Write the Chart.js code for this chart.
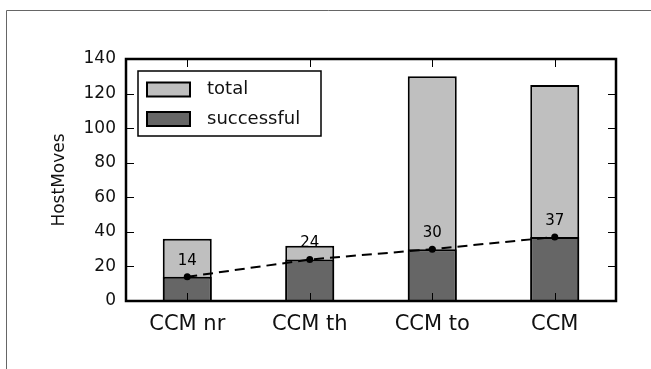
<!DOCTYPE html>
<html>
<head>
<meta charset="utf-8">
<script src="https://cdn.jsdelivr.net/npm/chart.js@4/dist/chart.umd.min.js"></script>
<style>
  html, body { margin: 0; padding: 0; background: #fff; }
  #wrap { width: 651px; height: 369px; position: relative; }
</style>
</head>
<body>
<div id="wrap"><canvas id="c" width="651" height="369"></canvas></div>
<script>
// Host migrations per CCM variant
const categories = ['CCM nr', 'CCM th', 'CCM to', 'CCM'];
const totalMoves = [36, 32, 130, 125];
const successfulMoves = [14, 24, 30, 37];
const yMin = 0, yMax = 140, yStep = 20;

const FONT = '"DejaVu Sans", sans-serif';

// Figure frame (left and top edge of the surrounding panel)
const framePlugin = {
  id: 'frame',
  beforeDraw(chart) {
    const ctx = chart.ctx;
    ctx.save();
    ctx.strokeStyle = '#666';
    ctx.lineWidth = 1;
    ctx.beginPath();
    ctx.moveTo(6.5, chart.height);
    ctx.lineTo(6.5, 10.5);
    ctx.lineTo(chart.width, 10.5);
    ctx.stroke();
    ctx.restore();
  }
};

// Box around the plot plus inward-pointing ticks on all four sides
const axesBoxPlugin = {
  id: 'axesBox',
  afterDraw(chart) {
    const ctx = chart.ctx;
    const a = chart.chartArea;
    const xs = chart.scales.x, ys = chart.scales.y;
    const tl = 8;
    ctx.save();
    ctx.strokeStyle = '#000';
    ctx.lineWidth = 1;
    ctx.beginPath();
    ys.ticks.forEach(t => {
      const y = Math.round(ys.getPixelForValue(t.value)) + 0.5;
      ctx.moveTo(a.left, y); ctx.lineTo(a.left + tl, y);
      ctx.moveTo(a.right, y); ctx.lineTo(a.right - tl, y);
    });
    xs.ticks.forEach((t, i) => {
      const x = Math.round(xs.getPixelForTick(i)) + 0.5;
      ctx.moveTo(x, a.bottom); ctx.lineTo(x, a.bottom - tl);
      ctx.moveTo(x, a.top); ctx.lineTo(x, a.top + tl);
    });
    ctx.stroke();
    ctx.lineWidth = 2.5;
    ctx.strokeRect(a.left, a.top, a.right - a.left, a.bottom - a.top);
    ctx.restore();
  }
};

// Value labels above the success-rate points
const pointLabelPlugin = {
  id: 'pointLabels',
  afterDatasetsDraw(chart) {
    const ctx = chart.ctx;
    const idx = chart.data.datasets.findIndex(d => d.type === 'line');
    const meta = chart.getDatasetMeta(idx);
    const values = chart.data.datasets[idx].data;
    ctx.save();
    ctx.fillStyle = '#000';
    ctx.font = '15px ' + FONT;
    ctx.textAlign = 'center';
    ctx.textBaseline = 'middle';
    meta.data.forEach((pt, i) => {
      ctx.fillText(String(values[i]), pt.x, pt.y - 16);
    });
    ctx.restore();
  }
};

// Legend drawn inside the plot, upper left (total first, then successful)
const boxLegendPlugin = {
  id: 'boxLegend',
  afterDraw(chart) {
    const ctx = chart.ctx;
    const a = chart.chartArea;
    const bx = a.left + 12, by = a.top + 12, bw = 183, bh = 65;
    const bars = chart.data.datasets.filter(d => d.type === 'bar').reverse();
    ctx.save();
    ctx.fillStyle = '#fff';
    ctx.fillRect(bx, by, bw, bh);
    ctx.strokeStyle = '#000';
    ctx.lineWidth = 1.5;
    ctx.strokeRect(bx, by, bw, bh);
    ctx.font = '18px ' + FONT;
    ctx.textBaseline = 'middle';
    ctx.textAlign = 'left';
    bars.forEach((d, i) => {
      const cy = by + 18.5 + i * 29.5;
      ctx.fillStyle = d.backgroundColor;
      ctx.fillRect(bx + 9, cy - 7, 43, 14);
      ctx.lineWidth = 2;
      ctx.strokeStyle = '#000';
      ctx.strokeRect(bx + 9, cy - 7, 43, 14);
      ctx.fillStyle = '#111';
      ctx.fillText(d.label, bx + 69, cy);
    });
    ctx.restore();
  }
};

new Chart(document.getElementById('c'), {
  data: {
    labels: categories,
    datasets: [
      {
        type: 'line',
        label: 'rate',
        data: successfulMoves,
        borderColor: '#000',
        borderWidth: 2,
        borderDash: [10, 6],
        pointRadius: 3.5,
        pointBackgroundColor: '#000',
        pointBorderWidth: 0,
        fill: false,
        tension: 0,
        order: 0
      },
      {
        type: 'bar',
        label: 'successful',
        data: successfulMoves,
        backgroundColor: '#666666',
        borderColor: '#000',
        borderWidth: 2,
        grouped: false,
        barPercentage: 0.4,
        categoryPercentage: 1.0,
        order: 1
      },
      {
        type: 'bar',
        label: 'total',
        data: totalMoves,
        backgroundColor: '#bfbfbf',
        borderColor: '#000',
        borderWidth: 2,
        grouped: false,
        barPercentage: 0.4,
        categoryPercentage: 1.0,
        order: 2
      }
    ]
  },
  options: {
    responsive: false,
    animation: false,
    devicePixelRatio: 1,
    layout: { padding: { top: 59, right: 35, bottom: 0, left: 0 } },
    plugins: {
      legend: { display: false },
      tooltip: { enabled: false }
    },
    scales: {
      x: {
        afterFit(s) { s.height = 68; },
        grid: { display: false, drawTicks: false },
        border: { display: false },
        ticks: { color: '#111', font: { family: FONT, size: 21 }, padding: 11, maxRotation: 0 }
      },
      y: {
        min: yMin,
        max: yMax,
        afterFit(s) { s.width = 126; },
        grid: { display: false, drawTicks: false },
        border: { display: false },
        ticks: { stepSize: yStep, color: '#111', font: { family: FONT, size: 17 }, padding: 10 },
        title: {
          display: true,
          text: 'HostMoves',
          color: '#111',
          font: { family: FONT, size: 17 },
          padding: { top: 49, bottom: 0 }
        }
      }
    }
  },
  plugins: [framePlugin, axesBoxPlugin, pointLabelPlugin, boxLegendPlugin]
});
</script>
</body>
</html>
